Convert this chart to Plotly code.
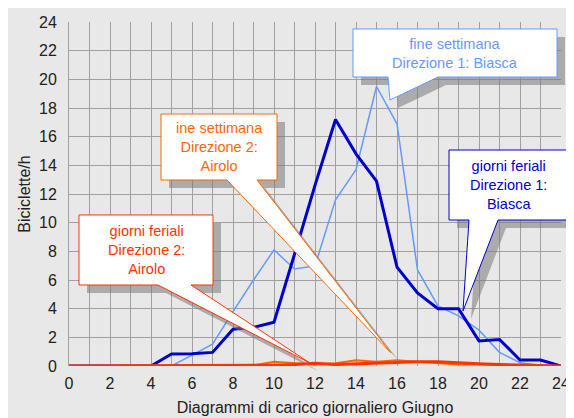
import plotly.graph_objects as go

# ore del giorno 0..24
ore = list(range(25))

# Direzione 1: Biasca
feriali_dir1 = [0, 0, 0, 0, 0, 0.84, 0.85, 0.95, 2.56, 2.7, 3.05, 7.8, 12.6,
                17.2, 14.8, 12.9, 6.9, 5.1, 4.0, 4.0, 1.75, 1.85, 0.42, 0.42, 0]
weekend_dir1 = [0, 0, 0, 0, 0, 0, 0.76, 1.53, 3.8, 6.0, 8.1, 6.77, 6.98,
                11.6, 13.7, 19.5, 16.9, 6.7, 4.19, 3.5, 2.5, 0.95, 0.23, 0.05, 0]

# Direzione 2: Airolo
weekend_dir2 = [0, 0, 0, 0, 0, 0, 0, 0, 0, 0.05, 0.3, 0.2, 0.1,
                0.2, 0.4, 0.3, 0.4, 0.3, 0.2, 0.1, 0.1, 0.05, 0.05, 0, 0]
feriali_dir2 = [0, 0, 0, 0, 0, 0, 0, 0, 0, 0, 0.05, 0.1, 0.2,
                0.1, 0.15, 0.2, 0.3, 0.3, 0.3, 0.2, 0.15, 0.1, 0.05, 0.05, 0]

x_ticks = list(range(0, 25, 2))
y_ticks = list(range(0, 25, 2))

W, H = 574, 418
OFF = 8  # margine della pagina
L, R, T, B = 61, 21, 14, 60
PW, PH = W - L - R, H - T - B


# coordinate in pixel dello schermo -> paper
def px(x):
    return (x - OFF - L) / PW


def py(y):
    return (H - B - (y - OFF)) / PH


FONT = "Arial, Liberation Sans, sans-serif"

fig = go.Figure()
fig.add_trace(go.Scatter(x=ore, y=weekend_dir1, mode="lines",
                         line=dict(color="#6699FF", width=1.5)))
fig.add_trace(go.Scatter(x=ore, y=feriali_dir1, mode="lines",
                         line=dict(color="#0000CC", width=3)))
fig.add_trace(go.Scatter(x=ore, y=weekend_dir2, mode="lines",
                         line=dict(color="#FF6600", width=2)))
fig.add_trace(go.Scatter(x=ore, y=feriali_dir2, mode="lines",
                         line=dict(color="#FF3300", width=3)))

shapes = []
annotations = []

# callout: box (x0, y0, x1, y1), base del puntatore, punta, colore, testo
callouts = [
    ((353, 29, 557, 77), (388, 438), (390, 100), "#6699FF",
     "fine settimana<br>Direzione 1: Biasca"),
    ((161, 114, 277, 180), (227, 257), (391, 353), "#FF6600",
     "ine settimana<br>Direzione 2:<br>Airolo"),
    ((449, 150, 568, 220), (469, 498), (463, 311), "#0000CC",
     "giorni feriali<br>Direzione 1:<br>Biasca"),
    ((79, 215, 213, 285), (158, 191), (310, 363), "#FF3300",
     "giorni feriali<br>Direzione 2:<br>Airolo"),
]


def callout_path(box, base, tip, d=0):
    x0, y0, x1, y1 = box
    pts = [(x0, y0), (x1, y0), (x1, y1), (base[1], y1), tip, (base[0], y1), (x0, y1)]
    return "M " + " L ".join(f"{px(a + d):.4f},{py(b + d):.4f}" for a, b in pts) + " Z"


for box, base, tip, col, txt in callouts:
    shapes.append(dict(type="path", xref="paper", yref="paper", layer="above",
                       path=callout_path(box, base, tip, 8),
                       fillcolor="rgba(120,120,120,0.55)", line=dict(width=0)))
for box, base, tip, col, txt in callouts:
    shapes.append(dict(type="path", xref="paper", yref="paper", layer="above",
                       path=callout_path(box, base, tip),
                       fillcolor="white", line=dict(color=col, width=1)))
    x0, y0, x1, y1 = box
    annotations.append(dict(xref="paper", yref="paper", showarrow=False,
                            x=px((x0 + x1) / 2), y=py((y0 + y1) / 2),
                            xanchor="center", yanchor="middle", text=txt,
                            font=dict(family=FONT, size=14.5, color=col)))

fig.update_layout(
    width=W, height=H,
    margin=dict(l=L, r=R, t=T, b=B),
    paper_bgcolor="#E8E8E8",
    plot_bgcolor="#E8E8E8",
    showlegend=False,
    font=dict(family=FONT, size=16, color="#222222"),
    shapes=shapes,
    annotations=annotations,
)
fig.update_xaxes(range=[0, 24], tickvals=x_ticks, ticks="outside", ticklen=3,
                 tickcolor="rgba(0,0,0,0)", showgrid=True, gridcolor="#A0A0A0",
                 gridwidth=1, minor=dict(dtick=1, showgrid=True, gridcolor="#A0A0A0"),
                 zeroline=False, showline=False, automargin=False,
                 title=dict(text="Diagrammi di carico giornaliero Giugno",
                            font=dict(size=16), standoff=10))
fig.update_yaxes(range=[0, 24], tickvals=y_ticks, ticks="outside", ticklen=8,
                 tickcolor="rgba(0,0,0,0)", showgrid=True, gridcolor="#A0A0A0",
                 gridwidth=1, zeroline=False, showline=True, linecolor="#A0A0A0",
                 automargin=False,
                 title=dict(text="Biciclette/h", font=dict(size=16), standoff=4))

fig.write_html("out.html")
